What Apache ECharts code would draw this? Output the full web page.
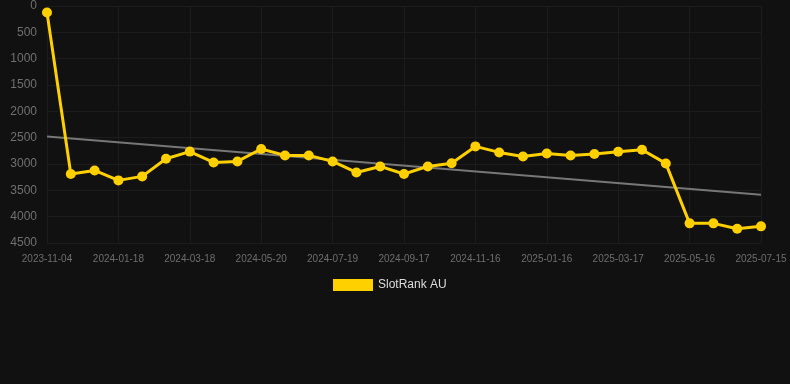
<!DOCTYPE html>
<html><head><meta charset="utf-8">
<script src="https://cdn.jsdelivr.net/npm/echarts@6/dist/echarts.min.js"></script>
<style>html,body{margin:0;padding:0;background:#111111;}#c{width:790px;height:384px;}</style>
</head><body><div id="c"></div>
<script>
const categories = ['2023-11-04','2023-11-29','2023-12-24','2024-01-18','2024-02-07','2024-02-27','2024-03-18','2024-04-08','2024-04-29','2024-05-20','2024-06-09','2024-06-29','2024-07-19','2024-08-08','2024-08-28','2024-09-17','2024-10-07','2024-10-27','2024-11-16','2024-12-06','2024-12-27','2025-01-16','2025-02-05','2025-02-25','2025-03-17','2025-04-06','2025-04-26','2025-05-16','2025-06-05','2025-06-25','2025-07-15'];
const rankValues = [124,3190,3122,3311,3235,2900,2765,2970,2951,2716,2837,2837,2951,3160,3046,3190,3046,2985,2666,2780,2856,2799,2837,2810,2767,2729,2989,4127,4127,4228,4184];
const trendStart = 2476;
const trendEnd = 3583;
const yTicks = {min:0, max:4500, interval:500};
const seriesName = 'SlotRank AU';

const trendData = categories.map((c,i)=> i===0 ? trendStart : (i===categories.length-1 ? trendEnd : null));

const chart = echarts.init(document.getElementById('c'));
chart.setOption({
  backgroundColor:'#111111',
  animation:false,
  grid:{left:47,right:29,top:6,bottom:141,containLabel:false},
  legend:{data:[{name:seriesName}],top:274,left:328,itemWidth:40,itemHeight:12,itemGap:10,icon:'rect',
    textStyle:{color:'#dddddd',fontSize:12,fontFamily:'Arial, Liberation Sans, sans-serif'}},
  xAxis:{type:'category',data:categories,boundaryGap:false,
    axisLine:{show:false},axisTick:{show:false},
    axisLabel:{interval:2,color:'#6e6e6e',fontSize:10,margin:11,fontFamily:'Arial, Liberation Sans, sans-serif'},
    splitLine:{show:true,interval:2,lineStyle:{color:'#1c1c1c',width:1}}},
  yAxis:{type:'value',inverse:true,min:yTicks.min,max:yTicks.max,interval:yTicks.interval,
    axisLine:{show:false},axisTick:{show:false},
    axisLabel:{color:'#707070',fontSize:12,margin:10,formatter:v=>String(v),fontFamily:'Arial, Liberation Sans, sans-serif'},
    splitLine:{show:true,lineStyle:{color:'#1c1c1c',width:1}}},
  series:[
    {name:'trend',type:'line',data:trendData,connectNulls:true,symbol:'none',silent:true,
      lineStyle:{color:'#777777',width:2},z:1},
    {name:seriesName,type:'line',data:rankValues,symbol:'circle',symbolSize:10,
      itemStyle:{color:'#FFD000'},lineStyle:{color:'#FFD000',width:3},z:2}
  ]
});
</script></body></html>
